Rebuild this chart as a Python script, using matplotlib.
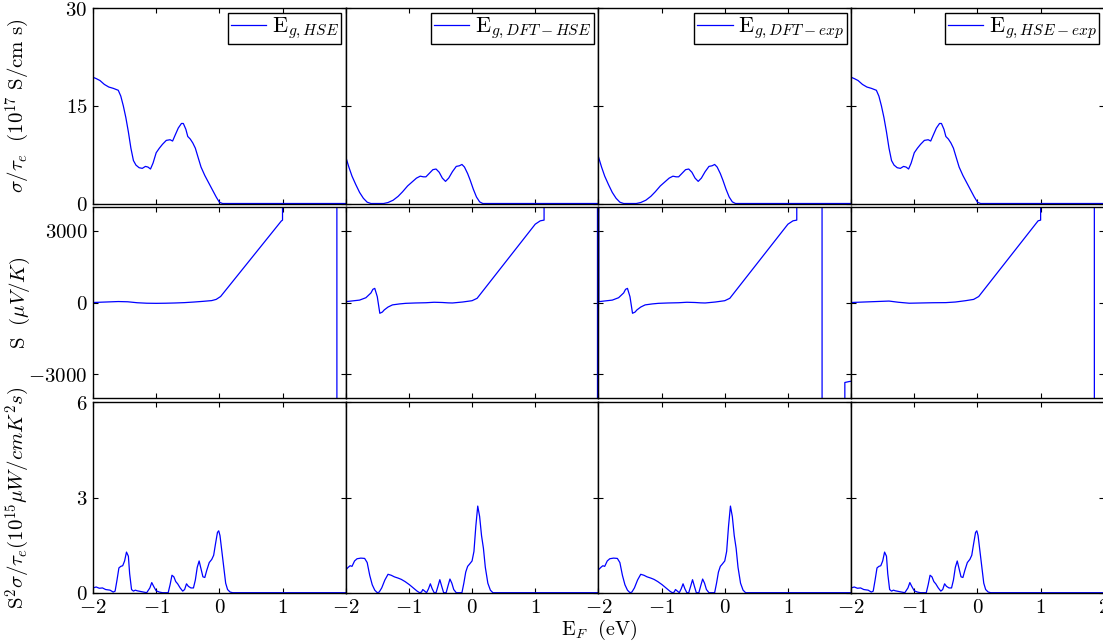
import numpy as np
import matplotlib
matplotlib.use("Agg")
import matplotlib.pyplot as plt
from matplotlib.ticker import FuncFormatter

plt.rcParams['mathtext.fontset'] = 'cm'
plt.rcParams['font.family'] = ['DejaVu Serif']

# ---- data ----
legend_labels = [r'$\mathrm{E}_{g,HSE}$', r'$\mathrm{E}_{g,DFT-HSE}$',
                 r'$\mathrm{E}_{g,DFT-exp}$', r'$\mathrm{E}_{g,HSE-exp}$']

# sigma/tau (row 1)
sig_hse_x = [-2.0, -1.95, -1.89, -1.82, -1.75, -1.68, -1.6, -1.56, -1.52, -1.48, -1.44, -1.40,
             -1.36, -1.32, -1.27, -1.22, -1.17, -1.13, -1.09, -1.05, -1.0, -0.95, -0.9, -0.84,
             -0.78, -0.74, -0.7, -0.65, -0.6, -0.57, -0.53, -0.5, -0.46, -0.42, -0.38, -0.34,
             -0.29, -0.23, -0.17, -0.11, -0.05, 0.0, 0.05, 2.0]
sig_hse_y = [19.4, 19.2, 18.9, 18.3, 17.9, 17.7, 17.4, 16.5, 15.0, 13.2, 11.0, 8.5,
             6.6, 5.9, 5.5, 5.4, 5.7, 5.6, 5.3, 6.2, 7.8, 8.5, 9.1, 9.7,
             9.8, 9.6, 10.5, 11.6, 12.3, 12.3, 11.4, 10.3, 9.9, 9.3, 8.5, 7.2,
             5.6, 4.3, 3.2, 2.1, 1.0, 0.2, 0.0, 0.0]

sig_dft_x = [-2.0, -1.95, -1.9, -1.84, -1.78, -1.72, -1.66, -1.6, -1.5, -1.4, -1.33, -1.25,
             -1.17, -1.1, -1.02, -0.95, -0.88, -0.82, -0.77, -0.73, -0.68, -0.62, -0.57, -0.52,
             -0.47, -0.42, -0.37, -0.31, -0.25, -0.2, -0.16, -0.12, -0.07, -0.03, 0.02, 0.07,
             0.12, 0.17, 2.0]
sig_dft_y = [7.2, 5.6, 4.2, 2.9, 1.7, 0.8, 0.2, 0.0, 0.0, 0.0, 0.15, 0.5,
             1.1, 1.8, 2.7, 3.3, 3.9, 4.2, 4.1, 4.1, 4.6, 5.2, 5.3, 4.8,
             3.9, 3.4, 3.9, 4.9, 5.7, 5.8, 6.0, 5.6, 4.6, 3.6, 2.2, 1.0,
             0.25, 0.0, 0.0]

# Seebeck (row 2)
s_hse_x = [-2.0, -1.8, -1.6, -1.45, -1.3, -1.15, -1.0, -0.85, -0.7, -0.55, -0.4, -0.25,
           -0.12, -0.05, 0.02, 0.98, 1.0, 1.001, 1.86, 1.861, 2.0]
s_hse_y = [0, 20, 40, 30, -10, -30, -35, -30, -20, -5, 20, 50,
           80, 130, 250, 3400, 3440, 1e4, 1e4, -1e4, -1e4]

s_dft_x = [-2.0, -1.78, -1.68, -1.6, -1.57, -1.54, -1.5, -1.46, -1.42, -1.39, -1.33, -1.26,
           -1.15, -1.05, -0.9, -0.73, -0.6, -0.47, -0.38, -0.31, -0.15, 0.0, 0.08, 1.0,
           1.08, 1.14, 1.141, 1.985, 1.986, 2.0]
s_dft_y = [35, 100, 200, 400, 550, 590, 240, -450, -400, -310, -190, -100,
           -60, -35, -20, -10, 10, 0, -15, -20, 20, 75, 175, 3270,
           3410, 3440, 1e4, 1e4, -1e4, -1e4]

s_dftexp_x = [-2.0, -1.998, -1.994, -1.78, -1.68, -1.6, -1.57, -1.54, -1.5, -1.46, -1.42, -1.39,
              -1.33, -1.26, -1.15, -1.05, -0.9, -0.73, -0.6, -0.47, -0.38, -0.31, -0.15, 0.0,
              0.08, 1.0, 1.08, 1.14, 1.141, 1.54, 1.541, 1.90, 1.901, 1.97, 2.0]
s_dftexp_y = [-1e4, 1e4, 35, 100, 200, 400, 550, 590, 240, -450, -400, -310,
              -190, -100, -60, -35, -20, -10, 10, 0, -15, -20, 20, 75,
              175, 3270, 3410, 3440, 1e4, 1e4, -1e4, -1e4, -3340, -3300, -3290]

s_hseexp_x = [-2.0, -1.8, -1.6, -1.4, -1.25, -1.08, -0.9, -0.71, -0.5, -0.35, -0.19, -0.06,
              0.02, 0.96, 1.0, 1.001, 1.85, 1.851, 2.0]
s_hseexp_y = [0, 20, 40, 60, 10, -30, -20, -10, -5, 20, 75, 130,
              250, 3410, 3440, 1e4, 1e4, -1e4, -1e4]

# power factor (row 3)
pf_hse_x = [-2.0, -1.95, -1.9, -1.85, -1.8, -1.73, -1.68, -1.65, -1.62, -1.59, -1.56, -1.53,
            -1.5, -1.47, -1.44, -1.42, -1.39, -1.36, -1.33, -1.3, -1.25, -1.2, -1.15, -1.1,
            -1.07, -1.04, -1.0, -0.95, -0.9, -0.85, -0.81, -0.78, -0.75, -0.72, -0.69, -0.66,
            -0.62, -0.58, -0.55, -0.52, -0.49, -0.45, -0.41, -0.38, -0.35, -0.32, -0.29, -0.26,
            -0.23, -0.2, -0.16, -0.12, -0.09, -0.06, -0.03, -0.01, 0.01, 0.04, 0.07, 0.1,
            0.13, 0.17, 0.21, 2.0]
pf_hse_y = [0.15, 0.18, 0.14, 0.15, 0.1, 0.08, 0.02, 0.05, 0.4, 0.78, 0.83, 0.85,
            1.0, 1.28, 1.15, 0.6, 0.1, 0.05, 0.08, 0.06, 0.04, 0.02, 0.0, 0.15,
            0.32, 0.2, 0.06, 0.02, 0.0, 0.0, 0.0, 0.25, 0.55, 0.5, 0.35, 0.28,
            0.15, 0.05, 0.1, 0.28, 0.2, 0.15, 0.15, 0.4, 0.8, 1.0, 0.75, 0.5,
            0.48, 0.7, 0.95, 1.05, 1.18, 1.55, 1.9, 1.95, 1.8, 1.3, 0.8, 0.3,
            0.1, 0.02, 0.0, 0.0]

pf_dft_x = [-2.0, -1.96, -1.93, -1.9, -1.86, -1.82, -1.76, -1.7, -1.66, -1.62, -1.58, -1.54,
            -1.5, -1.47, -1.43, -1.38, -1.33, -1.28, -1.23, -1.17, -1.12, -1.06, -0.99, -0.93,
            -0.87, -0.83, -0.8, -0.78, -0.75, -0.72, -0.69, -0.66, -0.63, -0.6, -0.57, -0.54,
            -0.51, -0.48, -0.45, -0.41, -0.38, -0.35, -0.32, -0.29, -0.25, -0.2, -0.16, -0.13,
            -0.1, -0.07, -0.04, 0.0, 0.03, 0.06, 0.09, 0.12, 0.15, 0.18, 0.21, 0.25,
            0.29, 0.33, 2.0]
pf_dft_y = [0.72, 0.8, 0.85, 0.83, 1.0, 1.07, 1.09, 1.08, 0.95, 0.55, 0.25, 0.08,
            0.0, 0.02, 0.15, 0.4, 0.58, 0.55, 0.5, 0.46, 0.42, 0.35, 0.25, 0.15,
            0.05, 0.0, 0.02, 0.1, 0.05, 0.0, 0.12, 0.28, 0.12, 0.0, 0.0, 0.2,
            0.41, 0.2, 0.0, 0.0, 0.22, 0.43, 0.3, 0.1, 0.0, 0.0, 0.0, 0.3,
            0.65, 0.83, 0.9, 1.0, 1.3, 2.1, 2.73, 2.4, 1.8, 1.4, 0.8, 0.3,
            0.08, 0.0, 0.0]

columns = [
    (sig_hse_x, sig_hse_y, s_hse_x, s_hse_y, pf_hse_x, pf_hse_y),
    (sig_dft_x, sig_dft_y, s_dft_x, s_dft_y, pf_dft_x, pf_dft_y),
    (sig_dft_x, sig_dft_y, s_dftexp_x, s_dftexp_y, pf_dft_x, pf_dft_y),
    (sig_hse_x, sig_hse_y, s_hseexp_x, s_hseexp_y, pf_hse_x, pf_hse_y),
]

row_ylims = [(0, 30), (-4000, 4000), (0, 6)]
row_yticks = [[0, 15, 30], [-3000, 0, 3000], [0, 3, 6]]
row_ylabels = [r'$\sigma/\tau_e\ \ (10^{17}\ \mathrm{S/cm\ s})$',
               r'$\mathrm{S}\ \ (\mu V/K)$',
               r'$\mathrm{S}^2\sigma/\tau_e(10^{15}\mu W/cmK^2s)$']
xticks = [-2, -1, 0, 1, 2]

# ---- layout (pixels) ----
W, H = 1103, 644
fig = plt.figure(figsize=(W / 100, H / 100), dpi=100)
col_w = 252.7
rows_px = [(8.3, 203.5), (206.7, 398.3), (402.3, 592.7)]

mfmt = FuncFormatter(lambda v, p: r'$%d$' % v)
cut_fmt = FuncFormatter(lambda v, p: '' if v > 1.5 else r'$%d$' % v)

for j in range(4):
    left = (93 + j * col_w) / W
    for i in range(3):
        top, bot = rows_px[i]
        ax = fig.add_axes([left, 1 - bot / H, col_w / W, (bot - top) / H])
        x, y = columns[j][2 * i], columns[j][2 * i + 1]
        ax.plot(x, y, color='#0000ff', lw=0.9, label=legend_labels[j])
        ax.set_xlim(-2, 2)
        ax.set_ylim(*row_ylims[i])
        ax.set_xticks(xticks)
        ax.set_yticks(row_yticks[i])
        ax.tick_params(direction='in', top=True, right=True, length=3.5, width=0.8,
                       labelsize=15, pad=4)
        for s in ax.spines.values():
            s.set_linewidth(1.0)
        if i == 2:
            ax.xaxis.set_major_formatter(mfmt if j == 3 else cut_fmt)
        else:
            ax.tick_params(labelbottom=False)
        if j == 0:
            ax.yaxis.set_major_formatter(mfmt)
            ax.set_ylabel(row_ylabels[i], fontsize=15)
            ax.yaxis.set_label_coords(-0.24, 0.5)
        else:
            ax.tick_params(labelleft=False)
        if i == 0:
            leg = ax.legend(loc='upper right', fancybox=False, edgecolor='k', framealpha=1,
                            fontsize=16, borderaxespad=0.2, handlelength=1.6,
                            handletextpad=0.25, borderpad=0.12)
            leg.get_frame().set_linewidth(1.0)

fig.text(599 / W, 1 - 630 / H, r'$\mathrm{E}_F\ \ (\mathrm{eV})$', ha='center', va='center',
         fontsize=14.5)

fig.savefig('out.png', dpi=100)
